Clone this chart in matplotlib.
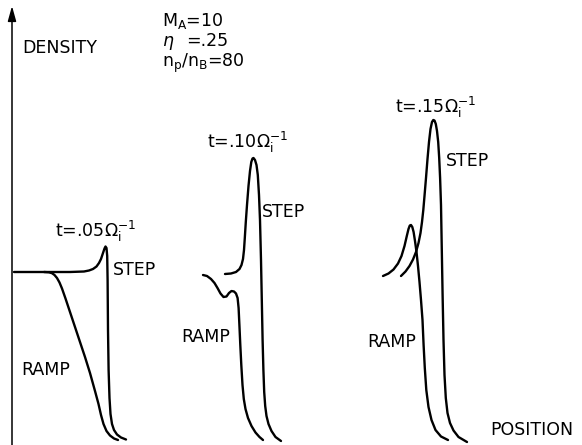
"""
Density profiles at three times, ramp vs step (scanned figure redrawn).
Coordinates are read off the original picture, in its pixel frame.
"""

import matplotlib
matplotlib.use("Agg")
import matplotlib.pyplot as plt

plt.rcParams['font.family'] = ['DejaVu Sans']
plt.rcParams['mathtext.fontset'] = 'dejavusans'

# t = .05
step05_x = [14, 40, 70, 84, 89, 93, 96.5, 99, 101, 103, 104.5, 105.5, 106.5, 107.2, 107.6,
            108, 108.6, 109.5, 110.5, 112, 114, 117, 121, 126]
step05_y = [272, 272, 272, 271.5, 270.5, 269, 266.5, 263, 259, 253, 248.5, 246.5, 248, 256, 280,
            330, 370, 398, 414, 424, 430, 434.5, 437.5, 439.5]
ramp05_x = [44, 49, 52, 54.5, 57, 59.5, 62, 65.5, 70, 75, 80, 85, 90, 95, 98.5, 101, 103.5,
            106.5, 110, 114, 118]
ramp05_y = [272, 272.3, 273.2, 275, 278, 282.5, 288.5, 298.5, 312, 327, 342, 357, 373, 391, 404,
            415, 424, 431, 435.5, 438.5, 440]

# t = .10
step10_x = [225, 231, 236, 239.5, 241.5, 243, 244, 244.8, 245.8, 247, 248.5, 250, 251.3, 252.5,
            253.5, 255, 256.5, 257.8, 259, 260, 261, 261.8, 262.6, 263.4, 264.2, 265.2, 266.5,
            268.5, 271.5, 275.5, 281]
step10_y = [274, 273.5, 272, 269, 265, 259, 250, 238, 222, 205, 186, 171, 162, 158.5,
            158, 160, 165, 175, 195, 220, 260, 300, 340, 370, 392, 406, 416,
            424, 431, 437, 441]
ramp10_x = [203, 207, 211, 214.5, 217.5, 220.5, 223.5, 226.5, 229, 231.5, 234, 236, 237.6,
            238.6, 239.4, 240.3, 241.3, 242.5, 243.8, 245.5, 248, 251.5, 255.5, 259.5, 263]
ramp10_y = [275, 276, 279, 283, 288, 293.5, 297, 296.5, 293, 291, 291.5, 293.5, 298,
            308, 325, 345, 365, 385, 399, 409, 418, 426, 432.5, 437, 440]

# t = .15
step15_x = [401, 405.5, 409.5, 413, 416, 418.5, 420.5, 422, 423.3, 424.5, 426, 427.5, 429,
            430.5, 432, 433.3, 434.5, 435.8, 437, 438.2, 439.2, 440.1, 441, 441.8, 442.6,
            443.5, 444.5, 445.8, 447.5, 450, 453.5, 458.5, 467]
step15_y = [276, 271.5, 266, 259.5, 252, 243, 233, 222, 210, 196, 178, 159, 142,
            129, 122, 120, 120.5, 124, 131, 142, 158, 178, 205, 250, 295,
            340, 375, 398, 413, 423, 430.5, 437, 442]
ramp15_x = [383, 388.5, 393.5, 398, 401.5, 404.5, 406.8, 408.5, 409.8, 411, 412.3, 413.6,
            415, 416.5, 418, 419.5, 421, 422.5, 423.6, 424.8, 426.3, 428.5, 431.5, 435.5,
            441, 448]
ramp15_y = [276, 273.5, 269.5, 263.5, 256, 246, 236, 229, 225.5, 225, 227, 232,
            241, 252, 266, 282, 300, 320, 345, 368, 390, 407, 420, 430,
            436.5, 440]

# text labels: (x, baseline y, string)
labels = [
    (22, 53, "DENSITY"),
    (162, 26, r"$\mathrm{M_A}$=10"),
    (162, 46, r"$\eta$"),
    (186, 46, "=.25"),
    (162, 67, r"$\mathrm{n_p/n_B}$=80"),
    (55, 237, r"t=.05$\Omega_{\mathrm{i}}^{-1}$"),
    (113, 275, "STEP"),
    (21, 375, "RAMP"),
    (207, 148, r"t=.10$\Omega_{\mathrm{i}}^{-1}$"),
    (262, 217, "STEP"),
    (181, 342, "RAMP"),
    (395, 113, r"t=.15$\Omega_{\mathrm{i}}^{-1}$"),
    (446, 166, "STEP"),
    (367, 347, "RAMP"),
    (490, 435, "POSITION"),
]

fig = plt.figure(figsize=(5.82, 4.45), dpi=100)
ax = fig.add_axes([0, 0, 1, 1])
ax.set_xlim(0, 582)
ax.set_ylim(445, 0)
ax.axis('off')

# density axis with arrow
ax.annotate("", xy=(12, 6), xytext=(12, 447),
            arrowprops=dict(arrowstyle='-|>,head_length=0.9,head_width=0.25',
                            color='black', lw=1.1, shrinkA=0, shrinkB=0))

for xs, ys in [(step05_x, step05_y), (ramp05_x, ramp05_y),
               (step10_x, step10_y), (ramp10_x, ramp10_y),
               (step15_x, step15_y), (ramp15_x, ramp15_y)]:
    ax.plot(xs, ys, color='black', lw=1.7, solid_capstyle='round', solid_joinstyle='round')

for x, y, s in labels:
    ax.text(x, y, s, fontsize=12.5, ha='left', va='baseline', color='black')

fig.savefig("out.png", dpi=100)
